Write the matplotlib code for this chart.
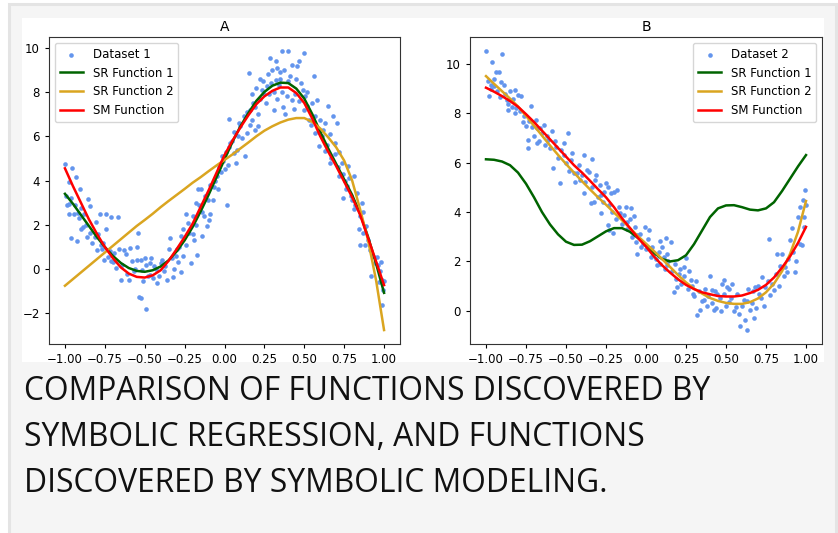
import matplotlib
matplotlib.use("Agg")
import matplotlib.pyplot as plt
from matplotlib.patches import Rectangle
import numpy as np

# ---------------- data ----------------
x_grid = [round(-1 + 0.05 * i, 2) for i in range(41)]

# Panel A curves
a_sr1 = [3.4, 2.95, 2.45, 1.95, 1.45, 1.0, 0.6, 0.28, 0.05, -0.08, -0.12, -0.05, 0.12, 0.4, 0.8,
         1.3, 1.9, 2.6, 3.35, 4.15, 4.95, 5.75, 6.45, 7.05, 7.6, 8.0, 8.28, 8.42, 8.4, 8.15, 7.7,
         7.0, 6.2, 5.45, 4.75, 4.05, 3.35, 2.5, 1.45, 0.25, -1.07]
a_sr2 = [-0.75, -0.45, -0.15, 0.15, 0.45, 0.75, 1.05, 1.35, 1.65, 1.95, 2.22, 2.5, 2.8, 3.08, 3.35,
         3.62, 3.9, 4.15, 4.42, 4.68, 4.93, 5.18, 5.45, 5.72, 6.0, 6.25, 6.45, 6.62, 6.75, 6.82, 6.82,
         6.65, 6.35, 5.95, 5.5, 4.9, 4.0, 2.7, 1.3, -0.5, -2.75]
a_sm = [4.55, 3.75, 3.0, 2.25, 1.6, 1.0, 0.5, 0.08, -0.2, -0.35, -0.38, -0.28, -0.05, 0.38, 0.9,
        1.45, 2.05, 2.8, 3.55, 4.35, 5.15, 5.8, 6.4, 6.95, 7.45, 7.8, 8.05, 8.2, 8.2, 7.95, 7.5,
        6.8, 6.0, 5.3, 4.65, 3.95, 3.25, 2.45, 1.4, 0.35, -0.72]

# Panel B curves
b_sr1 = [6.14, 6.12, 6.05, 5.9, 5.6, 5.15, 4.6, 4.0, 3.5, 3.1, 2.8, 2.67, 2.68, 2.82, 3.02, 3.22,
         3.35, 3.35, 3.2, 2.95, 2.65, 2.35, 2.1, 2.0, 2.05, 2.25, 2.7, 3.25, 3.8, 4.15, 4.27, 4.28,
         4.2, 4.1, 4.07, 4.15, 4.4, 4.85, 5.35, 5.85, 6.31]
b_sr2 = [9.51, 9.2, 8.9, 8.6, 8.28, 7.9, 7.5, 7.1, 6.7, 6.32, 5.95, 5.6, 5.25, 4.92, 4.6, 4.3, 3.98,
         3.67, 3.35, 3.02, 2.72, 2.42, 2.1, 1.78, 1.45, 1.15, 0.9, 0.7, 0.52, 0.4, 0.32, 0.28, 0.28,
         0.35, 0.5, 0.75, 1.1, 1.6, 2.3, 3.2, 4.45]
b_sm = [9.04, 8.88, 8.7, 8.5, 8.27, 7.97, 7.65, 7.3, 6.95, 6.6, 6.25, 5.9, 5.6, 5.27, 4.93, 4.6,
        4.2, 3.75, 3.35, 2.95, 2.6, 2.2, 1.85, 1.55, 1.28, 1.05, 0.88, 0.75, 0.67, 0.6, 0.58, 0.58,
        0.62, 0.72, 0.85, 1.05, 1.35, 1.75, 2.2, 2.75, 3.4]

# Dataset 1 scatter
d1_x = [-1.0, -0.958, -0.93, -0.973, -0.904, -0.99, -0.977, -0.973, -0.946, -0.92, -0.96, -0.925, -0.9,
        -0.88, -0.854, -0.84, -0.86, -0.9, -0.806, -0.78, -0.74, -0.71, -0.67, -0.74, -0.775, -0.72,
        -0.8, -0.754, -0.71, -0.65, -0.6, -0.63, -0.59, -0.546, -0.54, -0.525, -0.535, -0.525, -0.49,
        -0.5, -0.48, -0.467, -0.44, -0.42, -0.4, -0.38, -0.36, -0.34, -0.317, -0.306, -0.285, -0.275,
        -0.258, -0.244, -0.223, -0.21, -0.19, -0.17, -0.18, -0.167, -0.15, -0.14, -0.13, -0.11, -0.104,
        -0.088, -0.067, -0.05, -0.035, -0.015, 0.0, 0.013, 0.027, 0.0375, 0.058, 0.069, 0.083, 0.1,
        0.13, 0.14, 0.152, 0.16, 0.173, 0.18, 0.194, 0.208, 0.225, 0.235, 0.25, 0.267, 0.283, 0.3,
        0.308, 0.32, 0.33, 0.346, 0.358, 0.367, 0.38, 0.396, 0.41, 0.423, 0.433, 0.454, 0.465, 0.48,
        0.496, 0.506, 0.517, 0.527, 0.558, 0.569, 0.58, 0.59, 0.6, 0.62, 0.63, 0.65, 0.66, 0.683,
        0.694, 0.704, 0.715, 0.735, 0.74, 0.756, 0.767, 0.777, 0.8, 0.81, 0.81, 0.83, 0.84, 0.85,
        0.86, 0.87, 0.88, 0.89, 0.91, 0.92, 0.944, 0.954, 0.975, 0.985, 0.99, 0.996, 1.0,
        -0.995, -0.965, -0.94, -0.915, -0.89, -0.87, -0.845, -0.83, -0.81, -0.79, -0.77, -0.76, -0.73,
        -0.7, -0.69, -0.68, -0.66, -0.64, -0.62, -0.61, -0.58, -0.57, -0.56, -0.55, -0.52, -0.51,
        -0.49, -0.47, -0.46, -0.45, -0.43, -0.41, -0.39, -0.37, -0.35, -0.33, -0.32, -0.3, -0.29,
        -0.27, -0.26, -0.24, -0.23, -0.2, -0.2, -0.18, -0.16, -0.14, -0.12, -0.1, -0.09, -0.07,
        -0.06, -0.04, -0.02, -0.01, 0.01, 0.02, 0.03, 0.05, 0.06, 0.08, 0.09, 0.11, 0.12, 0.14,
        0.16, 0.17, 0.19, 0.2, 0.21, 0.22, 0.24, 0.26, 0.27, 0.28, 0.29, 0.31, 0.32, 0.33, 0.34,
        0.35, 0.36, 0.37, 0.39, 0.4, 0.42, 0.44, 0.45, 0.47, 0.49, 0.5, 0.52, 0.54, 0.55, 0.57,
        0.59, 0.61, 0.63, 0.64, 0.66, 0.67, 0.69, 0.71, 0.72, 0.74, 0.76, 0.78, 0.79, 0.82, 0.85,
        0.87, 0.9, 0.93, 0.96, 0.97, 0.98]
d1_y = [4.74, 4.55, 4.14, 3.95, 3.62, 2.9, 2.93, 2.48, 2.5, 2.53, 1.4, 1.25, 2.75, 2.5, 3.17, 2.85,
        1.45, 1.8, 2.15, 2.5, 2.5, 2.35, 2.35, 1.8, 1.1, 0.8, 0.87, 0.42, 0.35, -0.48, -0.48, 0.87,
        0.95, 1.02, 1.63, 0.42, -1.24, -1.3, -1.8, 0.5, -0.33, 0.27, 0.12, -0.63, 0.27, -0.1, -0.48,
        1.4, 0.0, 0.6, 1.0, -0.15, 1.8, 2.5, 1.65, 0.27, 1.33, 0.65, 3.0, 3.6, 3.6, 1.48, 2.4, 1.95,
        3.1, 2.5, 3.7, 4.2, 4.6, 5.12, 4.5, 2.9, 6.8, 5.7, 5.25, 4.8, 6.0, 6.45, 5.1, 6.15, 8.85,
        7.2, 6.75, 7.5, 6.3, 6.45, 8.6, 8.1, 7.9, 8.25, 9.55, 9.0, 7.2, 8.55, 9.1, 8.9, 9.85, 7.3,
        7.0, 9.85, 8.7, 7.65, 7.25, 9.17, 9.4, 8.4, 9.77, 7.8, 7.35, 6.75, 8.7, 6.15, 7.65, 5.55,
        6.75, 6.3, 5.35, 7.35, 4.8, 6.9, 5.7, 6.6, 4.2, 4.8, 3.2, 4.0, 3.75, 4.65, 3.1, 4.2, 2.7,
        3.45, 1.8, 1.1, 3.0, 1.65, 1.1, 1.95, 0.87, -0.33, 0.27, 0.57, -0.1, -0.48, -1.6, -0.93,
        -0.55,
        3.3, 3.2, 2.9, 2.3, 1.9, 2.0, 1.65, 1.2, 1.45, 1.6, 0.9, 1.2, 0.55, 0.3, 0.75, 0.05, 0.9,
        0.2, 0.7, -0.2, 0.35, -0.1, 0.0, 0.4, -0.05, -0.55, 0.2, -0.25, 0.5, -0.4, 0.0, -0.3, 0.4,
        0.15, 0.9, 0.5, -0.35, 0.9, 0.3, 1.5, 0.6, 1.1, 2.1, 1.6, 2.4, 2.0, 2.9, 2.6, 3.3, 2.2,
        3.8, 3.1, 4.0, 3.6, 4.4, 4.9, 5.3, 4.7, 5.5, 5.8, 6.2, 5.4, 6.6, 5.9, 6.9, 7.1, 6.5, 7.9,
        7.3, 8.2, 7.0, 7.7, 8.5, 7.5, 8.8, 7.9, 8.4, 8.0, 9.4, 7.7, 8.3, 8.6, 8.0, 9.0, 7.8, 8.5,
        9.2, 7.9, 8.6, 7.6, 8.1, 7.2, 8.0, 6.5, 7.5, 6.9, 6.2, 6.0, 6.6, 5.6, 6.1, 5.0, 5.2, 4.6,
        5.3, 4.3, 3.6, 4.1, 3.3, 2.9, 2.4, 2.6, 1.3, 0.6, 0.2, -0.6, 0.3]

# Dataset 2 scatter
d2_x = [-1.0, -0.96, -0.9, -0.94, -0.92, -0.98, -0.97, -0.95, -0.906, -0.89, -0.91, -0.87, -0.84,
        -0.82, -0.8, -0.78, -0.86, -0.82, -0.77, -0.72, -0.74, -0.735, -0.71, -0.69, -0.66, -0.64,
        -0.68, -0.615, -0.59, -0.58, -0.54, -0.56, -0.515, -0.49, -0.51, -0.48, -0.46, -0.445, -0.43,
        -0.39, -0.41, -0.387, -0.355, -0.335, -0.345, -0.325, -0.31, -0.28, -0.28, -0.25, -0.24,
        -0.22, -0.2, -0.18, -0.23, -0.205, -0.24, -0.16, -0.127, -0.096, -0.075, -0.116, -0.054,
        -0.054, -0.033, -0.008, 0.019, 0.03, 0.05, 0.087, 0.1, 0.133, 0.123, 0.158, 0.07, 0.133,
        0.175, 0.196, 0.206, 0.237, 0.25, 0.28, 0.295, 0.32, 0.34, 0.36, 0.4, 0.414, 0.424, 0.445,
        0.476, 0.486, 0.507, 0.517, 0.538, 0.56, 0.58, 0.59, 0.61, 0.62, 0.63, 0.65, 0.674, 0.684,
        0.705, 0.726, 0.746, 0.767, 0.778, 0.8, 0.82, 0.85, 0.87, 0.88, 0.9, 0.91, 0.93, 0.95,
        0.964, 0.975, 0.98, 0.996, 0.985,
        -0.99, -0.97, -0.95, -0.93, -0.88, -0.86, -0.85, -0.83, -0.81, -0.79, -0.76, -0.75, -0.73,
        -0.7, -0.68, -0.67, -0.65, -0.63, -0.62, -0.6, -0.57, -0.55, -0.53, -0.5, -0.47, -0.45,
        -0.42, -0.4, -0.38, -0.37, -0.34, -0.32, -0.3, -0.29, -0.27, -0.26, -0.23, -0.21, -0.19,
        -0.17, -0.15, -0.14, -0.12, -0.1, -0.09, -0.07, -0.06, -0.04, -0.02, 0.0, 0.01, 0.03, 0.04,
        0.06, 0.08, 0.09, 0.11, 0.12, 0.14, 0.16, 0.18, 0.19, 0.21, 0.22, 0.24, 0.26, 0.27, 0.29,
        0.3, 0.31, 0.33, 0.35, 0.37, 0.38, 0.39, 0.41, 0.43, 0.44, 0.46, 0.47, 0.49, 0.5, 0.52,
        0.53, 0.55, 0.57, 0.6, 0.63, 0.64, 0.66, 0.67, 0.69, 0.7, 0.72, 0.74, 0.76, 0.79, 0.81,
        0.83, 0.84, 0.86, 0.89, 0.92, 0.94, 0.96, 0.99, 1.0]
d2_y = [10.53, 10.1, 10.39, 9.66, 9.69, 8.72, 9.15, 9.1, 9.28, 9.15, 8.68, 8.54, 8.27, 8.95, 8.74,
        8.72, 8.14, 8.0, 7.66, 8.3, 6.92, 6.58, 7.46, 7.73, 7.42, 7.53, 6.78, 6.92, 7.28, 5.77,
        5.16, 6.65, 6.78, 7.19, 6.31, 5.68, 6.38, 5.23, 5.57, 6.31, 5.3, 4.76, 5.64, 6.14, 4.35,
        4.42, 5.5, 3.95, 4.69, 5.16, 5.03, 4.78, 4.82, 4.89, 3.27, 3.14, 3.47, 3.95, 4.22, 4.15,
        3.84, 3.6, 3.07, 2.32, 2.59, 3.4, 3.27, 2.53, 2.32, 2.84, 2.6, 2.32, 2.93, 2.77, 1.85,
        1.85, 0.77, 0.97, 1.51, 1.78, 2.12, 1.24, 0.7, -0.18, 0.03, 0.43, 1.41, 0.84, 0.03, 0.7,
        1.1, 1.24, 0.97, 0.36, 1.1, 0.16, -0.11, -0.62, 0.43, -0.38, -0.78, 0.03, -0.31, 0.97,
        0.7, 1.38, 0.97, 2.89, 0.64, 0.84, 2.32, 2.32, 1.78, 1.58, 2.86, 3.34, 1.58, 3.81, 4.22,
        2.66, 4.49, 4.89, 3.81,
        9.3, 9.0, 9.4, 8.9, 8.8, 8.4, 8.9, 8.6, 8.2, 8.1, 7.9, 7.5, 7.7, 7.1, 7.4, 6.9, 7.2, 6.7,
        7.1, 6.6, 6.9, 6.2, 6.5, 6.0, 6.1, 5.6, 5.9, 5.5, 5.2, 5.7, 5.0, 5.3, 4.6, 5.1, 4.4, 4.8,
        4.3, 4.0, 3.7, 4.2, 3.5, 3.9, 3.3, 3.7, 3.0, 3.4, 2.8, 3.1, 2.7, 2.5, 2.9, 2.2, 2.6, 2.1,
        2.4, 1.9, 2.2, 1.7, 2.0, 1.6, 1.9, 1.3, 1.7, 1.1, 1.4, 0.9, 1.6, 1.0, 0.6, 1.2, 0.8, 0.4,
        0.9, 0.2, 0.6, 0.3, 0.8, 0.1, 0.5, 0.0, 0.7, 0.2, 0.9, 0.5, 0.0, 0.7, 0.2, 0.4, 0.9, 0.3,
        0.8, 0.1, 1.0, 0.5, 0.2, 1.2, 1.1, 1.5, 1.0, 1.8, 1.4, 2.1, 2.4, 2.0, 2.7, 3.4, 4.3]

titles = ["A", "B"]
scatter_labels = ["Dataset 1", "Dataset 2"]
line_labels = ["SR Function 1", "SR Function 2", "SM Function"]
caption_lines = ["COMPARISON OF FUNCTIONS DISCOVERED BY",
                 "SYMBOLIC REGRESSION, AND FUNCTIONS",
                 "DISCOVERED BY SYMBOLIC MODELING."]

# ---------------- figure ----------------
W, H = 838, 533
fig = plt.figure(figsize=(W / 100, H / 100), dpi=100, facecolor="white")


def px_rect(x0, y0, x1, y1, z, **kw):
    r = Rectangle((x0 / W, 1 - y1 / H), (x1 - x0) / W, (y1 - y0) / H,
                  transform=fig.transFigure, zorder=z, **kw)
    fig.add_artist(r)


# outer gray box with light border
px_rect(9, 4, 836, 540, -3, facecolor="#f5f5f5", edgecolor="#e4e4e4", linewidth=2.2)
# white plot background
px_rect(22, 18, 824, 362, -2, facecolor="white", edgecolor="none")

plt.rcParams["font.family"] = ["DejaVu Sans"]
fs = 8.5

axA = fig.add_axes([49 / W, 1 - 344 / H, 351 / W, 307 / H])
axB = fig.add_axes([470 / W, 1 - 344 / H, 352 / W, 307 / H])

panels = [
    (axA, d1_x, d1_y, a_sr1, a_sr2, a_sm, "upper left"),
    (axB, d2_x, d2_y, b_sr1, b_sr2, b_sm, "upper right"),
]
for i, (ax, dx, dy, s1, s2, sm, loc) in enumerate(panels):
    ax.scatter(dx, dy, s=11, color="cornflowerblue", label=scatter_labels[i], zorder=2, linewidths=0)
    ax.plot(x_grid, s1, color="darkgreen", lw=1.8, label=line_labels[0], zorder=3)
    ax.plot(x_grid, s2, color="goldenrod", lw=1.8, label=line_labels[1], zorder=3)
    ax.plot(x_grid, sm, color="red", lw=1.8, label=line_labels[2], zorder=4)
    ax.set_title(titles[i], fontsize=10, pad=4)
    ax.set_xticks([-1.0, -0.75, -0.5, -0.25, 0.0, 0.25, 0.5, 0.75, 1.0])
    ax.tick_params(labelsize=fs, length=3)
    ax.legend(loc=loc, fontsize=fs, markerscale=1.0)
    for sp in ax.spines.values():
        sp.set_color("#333333")

axA.set_yticks([-2, 0, 2, 4, 6, 8, 10])
axB.set_yticks([0, 2, 4, 6, 8, 10])

for k, line in enumerate(caption_lines):
    fig.text(24 / W, 1 - (400 + 46 * k) / H, line, fontsize=22.9, family="Open Sans",
             color="#111111", va="baseline", ha="left")

fig.savefig("out.png", dpi=100, facecolor="white")
